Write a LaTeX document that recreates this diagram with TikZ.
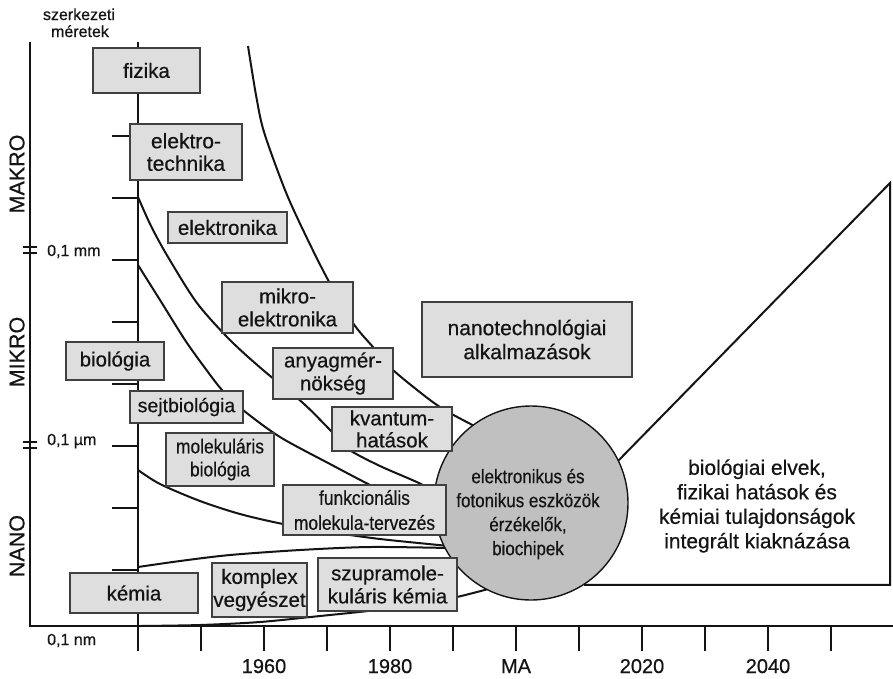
\documentclass[tikz,border=0pt]{standalone}
\usepackage{fontspec}
\setmainfont{Liberation Sans}[FakeBold=0.5]
\newfontfamily\condfont{Liberation Sans}[FakeStretch=0.87,FakeBold=0.5]
\newcommand\fsz[2]{\fontsize{#1}{#2}\selectfont}
\definecolor{boxfill}{HTML}{DEDEDE}
\definecolor{boxline}{HTML}{404040}
\definecolor{circfill}{HTML}{C0C0C0}
\definecolor{ink}{HTML}{141414}
\begin{document}
\begin{tikzpicture}[x=1pt,y=-1pt,
  axis/.style={line width=2.4pt, draw=ink},
  curve/.style={line width=2pt, draw=ink},
  box/.style={draw=boxline, fill=boxfill, line width=1.4pt, inner sep=0pt,
    align=center, text=ink, font=\fsz{20.5}{23}},
  lbl/.style={text=ink, inner sep=0pt},
  ]
\useasboundingbox[fill=white] (0,0) rectangle (893,678);

% axes
\draw[axis] (30,42) -- (30,626) -- (893,626);
\draw[axis] (138,42) -- (138,651);
\foreach \y in {136,198,260,322,384,446,508,570}
  \draw[axis] (112,\y) -- (138,\y);
\foreach \k in {1,...,11}
  \draw[axis] ({138+63*\k},626) -- ({138+63*\k},651);
\draw[line width=2pt, draw=ink] (23,246.5) -- (37,246.5) (23,252.5) -- (37,252.5);
\draw[line width=2pt, draw=ink] (23,442) -- (37,442) (23,448) -- (37,448);

% curves
\draw[curve] plot[smooth] coordinates {(248,46) (256,95) (264,132) (285,190) (304,232) (327,278) (353,323) (373,347) (393,370) (430,400) (450,413) (482,430)};
\draw[curve] plot[smooth] coordinates {(138,197) (151,226) (168,257) (197,303) (230,340) (263,370) (303,403) (332,432) (348,449) (380,466) (423,485) (445,500)};
\draw[curve] plot[smooth] coordinates {(138,265) (160,300) (185,340) (205,368) (222,390) (243,410) (280,437) (330,464) (370,485) (410,505) (442,527)};
\draw[curve] plot[smooth] coordinates {(138,470) (160,484) (200,501) (240,514) (283,524) (330,532) (380,539) (449,546)};
\draw[curve] plot[smooth] coordinates {(138,567) (180,561) (230,555) (300,550) (370,547) (449,548)};
\draw[curve] plot[smooth] coordinates {(140,626) (200,625) (260,622) (320,616) (377,610) (420,604) (457,597) (492,588)};

% circle and right region
\node[circle, draw=ink, fill=circfill, line width=1.4pt, minimum size=194pt, inner sep=0pt] (circ) at (531,503) {};
\coordinate (apex) at (890,183);
\draw[curve] (circ.26.6) -- (apex) -- (apex |- circ.-57.7) -- (circ.-57.7);
\node[lbl, align=center, font=\condfont\fsz{19.5}{24}] (circtxt) at (528,514) {elektronikus és\\fotonikus eszközök\\érzékelők,\\biochipek};
\node[lbl, align=center, font=\fsz{21}{24.5}] (tritxt) at (757,506) {biológiai elvek,\\fizikai hatások és\\kémiai tulajdonságok\\integrált kiaknázása};

% boxes
\node[box, minimum width=107pt, minimum height=45pt] (fizika) at (146.5,70.5) {fizika};
\node[box, minimum width=112pt, minimum height=56pt, font=\fsz{21}{22.5}] (eltech) at (186,152) {elektro-\\technika};
\node[box, minimum width=119pt, minimum height=31pt] (elektr) at (227.5,227.5) {elektronika};
\node[box, minimum width=131pt, minimum height=51pt] (mikro) at (287.5,307.5) {mikro-\\elektronika};
\node[box, minimum width=120pt, minimum height=51pt] (anyag) at (333,373.5) {anyagmér-\\nökség};
\node[box, minimum width=120pt, minimum height=44pt, font=\fsz{20.5}{22}] (kvant) at (392,429) {kvantum-\\hatások};
\node[box, minimum width=210pt, minimum height=75pt, font=\fsz{21}{24}] (nanot) at (527,339.5) {nanotechnológiai\\alkalmazások};
\node[box, minimum width=98pt, minimum height=38pt] (biol) at (115,361) {biológia};
\node[box, minimum width=113pt, minimum height=32pt, font=\fsz{19.5}{22}] (sejt) at (186.5,407) {sejtbiológia};
\node[box, minimum width=108pt, minimum height=53pt, font=\condfont\fsz{20}{23}] (molbio) at (220,459.5) {molekuláris\\biológia};
\node[box, minimum width=163pt, minimum height=50pt, font=\condfont\fsz{20}{25}] (funk) at (364.5,510) {funkcionális\\molekula-tervezés};
\node[box, minimum width=128pt, minimum height=40pt] (kemia) at (134,593) {kémia};
\node[box, minimum width=95pt, minimum height=54pt, font=\fsz{20.5}{23}] (kompl) at (259.5,590) {komplex\\vegyészet};
\node[box, minimum width=139pt, minimum height=53pt, font=\fsz{20.5}{23}] (szupra) at (387.5,584.5) {szupramole-\\kuláris kémia};

% axis labels
\node[lbl, font=\fsz{16}{17}, anchor=base] (szerk) at (79,20) {szerkezeti};
\node[lbl, font=\fsz{16}{17}, anchor=base] (mer) at (80,37) {méretek};
\node[lbl, font=\fsz{21.5}{22}, rotate=90] (makro) at (17,174) {MAKRO};
\node[lbl, font=\fsz{21.5}{22}, rotate=90] (mikrol) at (17,352) {MIKRO};
\node[lbl, font=\fsz{21.5}{22}, rotate=90] (nano) at (17,546) {NANO};
\node[lbl, font=\fsz{16}{17}, anchor=base west] (mm) at (47,256) {0,1 mm};
\node[lbl, font=\fsz{16}{17}, anchor=base west] (um) at (47,445) {0,1 µm};
\node[lbl, font=\fsz{16}{17}, anchor=base west] (nm) at (47,645) {0,1 nm};
\foreach \x/\t in {264/1960,390/1980,516/MA,642/2020,768/2040}
  \node[lbl, font=\fsz{20}{22}, anchor=base] (yr\t) at (\x,673) {\t};
\end{tikzpicture}
\end{document}
